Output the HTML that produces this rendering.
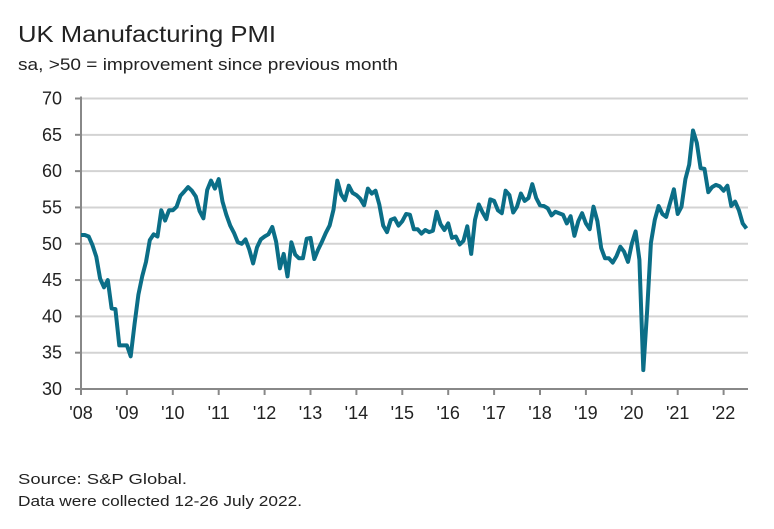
<!DOCTYPE html>
<html><head><meta charset="utf-8"><style>
body{margin:0;background:#fff;width:774px;height:524px;overflow:hidden;font-family:"Liberation Sans",sans-serif;color:#222}
</style></head><body>
<svg width="774" height="524">
<text x="18" y="42" font-size="23" fill="#222" textLength="258" lengthAdjust="spacingAndGlyphs">UK Manufacturing PMI</text>
<text x="18" y="70" font-size="16.5" fill="#222" textLength="380" lengthAdjust="spacingAndGlyphs">sa, &gt;50 = improvement since previous month</text>
<g id="grid"></g><g id="axes"></g>
<path id="line" fill="none" stroke="#0b6e87" stroke-width="4" stroke-linejoin="round"/>
<text x="18" y="484" font-size="15" fill="#222" textLength="169" lengthAdjust="spacingAndGlyphs">Source: S&amp;P Global.</text>
<text x="18" y="506" font-size="15" fill="#222" textLength="284" lengthAdjust="spacingAndGlyphs">Data were collected 12-26 July 2022.</text>
</svg>
<script>
const yTicks=[30,35,40,45,50,55,60,65,70];
const xLabels=["'08","'09","'10","'11","'12","'13","'14","'15","'16","'17","'18","'19","'20","'21","'22"];
const pmi=[
51.2,51.2,51.0,49.8,48.2,45.2,44.0,45.0,41.1,41.0,36.0,36.0,
36.0,34.5,39.0,43.0,45.5,47.5,50.5,51.3,51.0,54.6,53.2,54.6,
54.6,55.1,56.6,57.2,57.8,57.3,56.5,54.5,53.5,57.4,58.7,57.6,
58.9,55.8,54.0,52.5,51.5,50.2,50.0,50.6,49.2,47.3,49.5,50.6,
51.0,51.3,52.3,50.3,46.6,48.6,45.5,50.2,48.5,48.0,48.0,50.7,
50.8,47.9,49.2,50.3,51.5,52.5,54.7,58.7,56.8,56.0,58.0,57.0,
56.7,56.2,55.3,57.6,56.9,57.3,55.4,52.5,51.6,53.3,53.5,52.5,
53.1,54.1,54.0,52.0,52.0,51.4,51.9,51.6,51.8,54.4,52.7,51.9,
52.8,50.8,51.0,49.9,50.4,52.4,48.6,53.3,55.4,54.3,53.4,56.1,
55.9,54.6,54.2,57.3,56.7,54.3,55.1,56.9,55.9,56.3,58.2,56.3,
55.3,55.2,54.9,53.9,54.4,54.2,54.0,52.8,53.8,51.1,53.1,54.2,
52.8,52.0,55.1,53.1,49.4,48.0,48.0,47.4,48.3,49.6,48.9,47.5,
50.0,51.7,47.8,32.6,40.7,50.1,53.3,55.2,54.1,53.7,55.6,57.5,
54.1,55.1,58.9,60.9,65.6,63.9,60.4,60.3,57.1,57.8,58.1,57.9,
57.3,58.0,55.2,55.8,54.6,52.8,52.1];
const x0=81,yearW=45.9,yTop=98.5,yBot=389;
const X=i=>x0+i*yearW/12;
const Y=v=>yBot-(v-30)*(yBot-yTop)/40;
const NS="http://www.w3.org/2000/svg";
const grid=document.getElementById('grid'),axes=document.getElementById('axes');
yTicks.forEach(t=>{
 if(t>30){const l=document.createElementNS(NS,'line');
 l.setAttribute('x1',x0);l.setAttribute('x2',748);l.setAttribute('y1',Y(t));l.setAttribute('y2',Y(t));
 l.setAttribute('stroke','#d3d3d3');l.setAttribute('stroke-width','2');
 
 
 grid.appendChild(l);}
 const tk=document.createElementNS(NS,'line');
 tk.setAttribute('x1',x0-6);tk.setAttribute('x2',x0);tk.setAttribute('y1',Y(t));tk.setAttribute('y2',Y(t));
 tk.setAttribute('stroke','#888');tk.setAttribute('stroke-width','2');
 
 
 axes.appendChild(tk);
 const tx=document.createElementNS(NS,'text');
 tx.setAttribute('x',62);tx.setAttribute('y',Y(t)+6);tx.setAttribute('text-anchor','end');tx.setAttribute('font-size','18');tx.setAttribute('fill','#222');
 tx.textContent=t;
 
 
 axes.appendChild(tx);
});
const ax=document.createElementNS(NS,'path');
ax.setAttribute('d',`M${x0},${yTop-2}V${yBot}H748`);ax.setAttribute('stroke','#888');ax.setAttribute('stroke-width','2');ax.setAttribute('fill','none');


axes.appendChild(ax);
xLabels.forEach((lab,k)=>{
 const x=X(k*12);
 const tk=document.createElementNS(NS,'line');
 tk.setAttribute('x1',x);tk.setAttribute('x2',x);tk.setAttribute('y1',yBot);tk.setAttribute('y2',yBot+6);
 tk.setAttribute('stroke','#888');tk.setAttribute('stroke-width','2');
 
 
 axes.appendChild(tk);
 const tx=document.createElementNS(NS,'text');
 tx.setAttribute('x',x);tx.setAttribute('y',419);tx.setAttribute('text-anchor','middle');tx.setAttribute('font-size','18');tx.setAttribute('fill','#222');
 tx.textContent=lab;
 
 
 axes.appendChild(tx);
});
document.getElementById('line').setAttribute('d',pmi.map((v,i)=>(i?'L':'M')+X(i).toFixed(1)+','+Y(v).toFixed(1)).join(''));
</script>
</body></html>
